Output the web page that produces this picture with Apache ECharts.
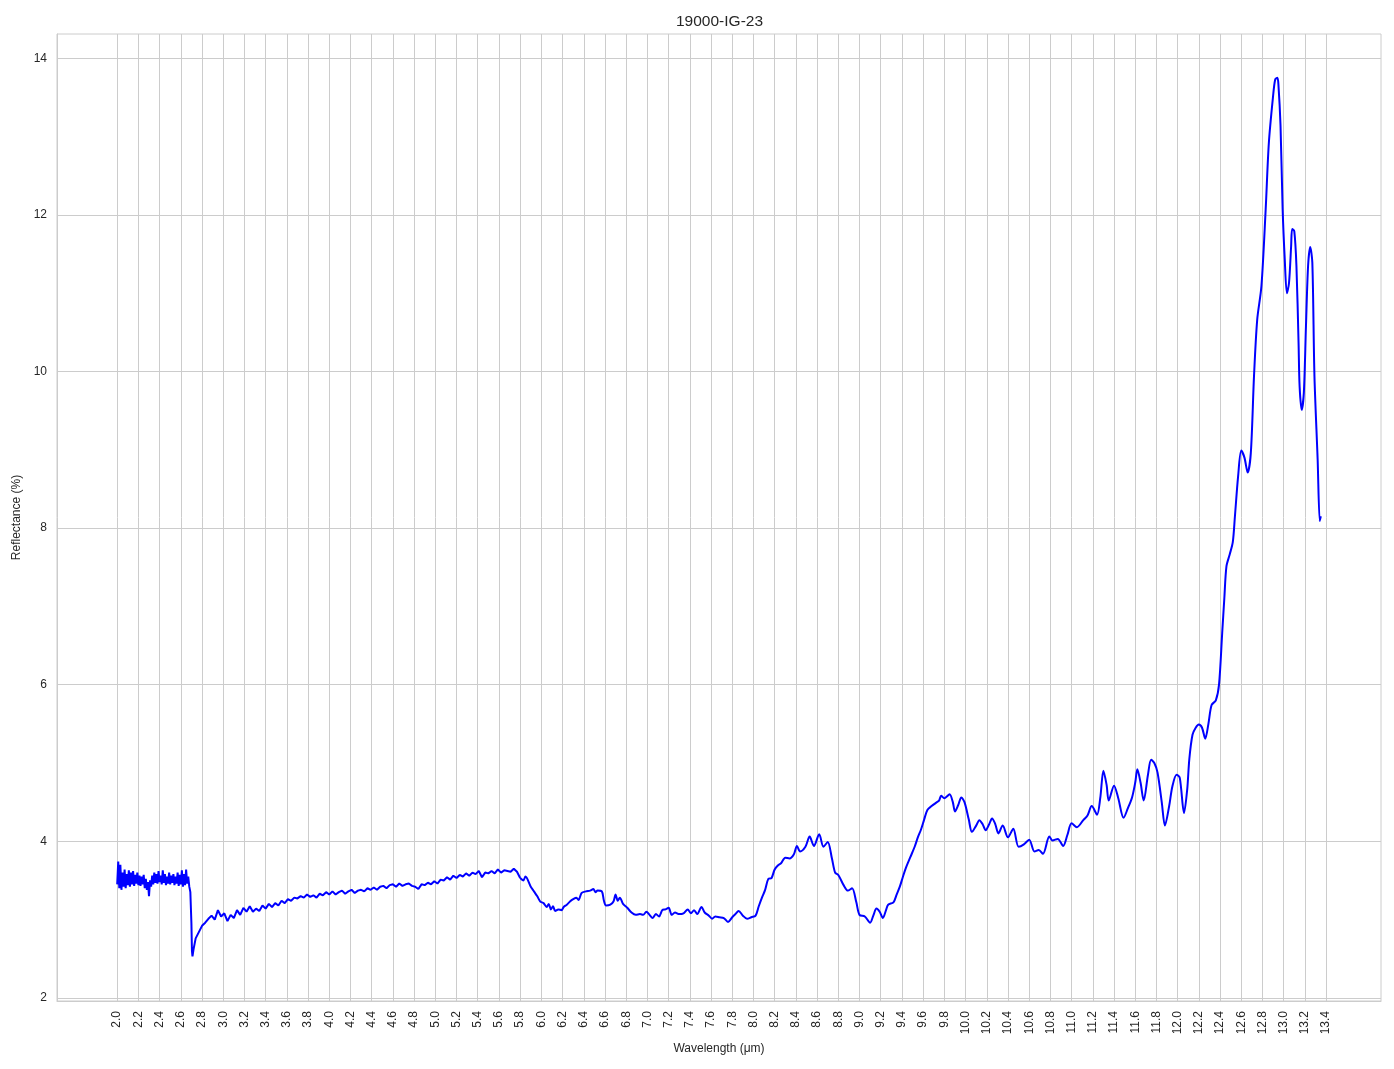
<!DOCTYPE html>
<html>
<head>
<meta charset="utf-8">
<script src="https://cdn.jsdelivr.net/npm/echarts@6/dist/echarts.min.js"></script>
<style>
html,body{margin:0;padding:0;background:#fff;}
#chart{width:1394px;height:1069px;}
</style>
</head>
<body>
<div id="chart"></div>
<script>
// Noisy part of the spectrum (wavelength in µm, reflectance in %)
const noisyWl = [
2.00,2.01,2.02,2.03,2.04,2.05,2.06,2.07,2.08,2.09,2.10,2.11,2.12,2.13,2.14,2.15,2.16,2.17,2.18,2.19,
2.20,2.21,2.22,2.23,2.24,2.25,2.26,2.27,2.28,2.29,2.30,2.31,2.32,2.33,2.34,2.35,2.36,2.37,2.38,2.39,
2.40,2.41,2.42,2.43,2.44,2.45,2.46,2.47,2.48,2.49,2.50,2.51,2.52,2.53,2.54,2.55,2.56,2.57,2.58,2.59,
2.60,2.61,2.62,2.63,2.64,2.65,2.66,2.67,2.68,2.69,2.70,2.705,2.71,2.72,
2.74,2.77,2.80,2.83,2.86,2.89,2.92,2.95,2.98,3.01,3.04,3.07,3.10,3.13,3.16,3.19,3.22,3.25,3.28,3.31,
3.34,3.37,3.40,3.43,3.46,3.49,3.52,3.55,3.58,3.61,3.64,3.67,3.70,3.73,3.76,3.79,3.82,3.85,3.88,3.91,
3.94,3.97,4.00,4.03,4.06,4.09,4.12,4.15,4.18,4.21,4.24,4.27,4.30,4.33,4.36,4.39,4.42,4.45,4.48,4.51,
4.54,4.57,4.60,4.63,4.66,4.69,4.72,4.75,4.78,4.81,4.84,4.87,4.90,4.93,4.96,4.99,5.02,5.05,5.08,5.11,
5.14,5.17,5.20,5.23,5.26,5.29,5.32,5.35,5.38,5.41,5.44,5.47,5.50,5.53,5.56,5.59,5.62,5.65,5.68,5.71,
5.74,5.77,5.80
];
const noisyRefl = [
3.45,3.74,3.40,3.70,3.38,3.60,3.42,3.64,3.40,3.58,3.44,3.63,3.42,3.60,3.45,3.62,3.43,3.57,3.46,3.60,
3.44,3.56,3.43,3.55,3.45,3.57,3.40,3.52,3.38,3.48,3.30,3.50,3.42,3.56,3.45,3.60,3.47,3.58,3.46,3.62,
3.48,3.56,3.45,3.63,3.47,3.58,3.44,3.55,3.46,3.60,3.45,3.56,3.47,3.58,3.44,3.55,3.46,3.60,3.43,3.57,
3.45,3.63,3.42,3.58,3.44,3.64,3.46,3.55,3.42,3.35,2.95,2.60,2.53,2.62,
2.76,2.84,2.92,2.96,3.01,3.05,3.00,3.12,3.04,3.08,2.98,3.06,3.02,3.12,3.06,3.15,3.10,3.17,3.10,3.14,
3.11,3.18,3.14,3.20,3.16,3.21,3.18,3.24,3.21,3.26,3.24,3.28,3.27,3.30,3.28,3.32,3.29,3.31,3.28,3.33,
3.31,3.35,3.32,3.36,3.32,3.35,3.37,3.33,3.36,3.38,3.34,3.37,3.38,3.36,3.40,3.38,3.41,3.38,3.42,3.43,
3.40,3.44,3.45,3.42,3.46,3.43,3.45,3.46,3.43,3.42,3.39,3.45,3.44,3.47,3.45,3.49,3.46,3.51,3.50,3.54,
3.51,3.56,3.53,3.57,3.55,3.59,3.56,3.60,3.58,3.62,3.54,3.60,3.59,3.62,3.59,3.64,3.60,3.63,3.62,3.61,
3.65,3.61,3.53
];
// Smoother part of the spectrum
const smoothWl = [
5.80,5.83,5.85,5.90,5.93,5.96,5.99,6.02,6.05,6.07,6.09,6.11,6.13,6.16,6.19,6.21,6.24,6.27,6.30,6.33,
6.35,6.38,6.42,6.46,6.49,6.51,6.53,6.57,6.59,6.61,6.65,6.68,6.70,6.72,6.74,6.77,6.81,6.85,6.89,6.93,
6.96,6.99,7.02,7.05,7.08,7.11,7.14,7.17,7.20,7.23,7.26,7.30,7.34,7.38,7.41,7.44,7.47,7.51,7.54,7.58,
7.61,7.64,7.68,7.72,7.76,7.80,7.83,7.86,7.90,7.94,7.98,8.02,8.05,8.08,8.11,8.14,8.17,8.20,8.23,8.26,
8.30,8.34,8.38,8.41,8.44,8.49,8.53,8.57,8.62,8.66,8.70,8.74,8.77,8.80,8.85,8.89,8.93,8.97,9.00,9.05,
9.10,9.13,9.16,9.19,9.22,9.25,9.27,9.32,9.35,9.38,9.41,9.44,9.48,9.52,9.55,9.58,9.61,9.64,9.68,9.72,
9.75,9.77,9.80,9.83,9.85,9.88,9.90,9.93,9.96,9.99,10.03,10.06,10.10,10.13,10.16,10.19,10.22,10.25,10.28,10.31,
10.35,10.40,10.45,10.50,10.55,10.60,10.65,10.69,10.73,10.79,10.82,10.87,10.92,10.96,11.00,11.05,11.11,11.15,11.19,11.24,
11.27,11.30,11.33,11.35,11.40,11.44,11.49,11.53,11.57,11.60,11.62,11.65,11.68,11.72,11.75,11.78,11.81,11.85,11.88,11.92,
11.95,11.99,12.02,12.06,12.09,12.11,12.14,12.17,12.20,12.23,12.26,12.29,12.32,12.36,12.39,12.42,12.44,12.46,12.49,12.52,
12.54,12.57,12.60,12.63,12.66,12.69,12.72,12.75,12.79,12.83,12.86,12.90,12.92,12.94,12.95,12.97,12.99,13.01,13.03,13.05,
13.07,13.08,13.10,13.12,13.14,13.15,13.17,13.19,13.21,13.23,13.25,13.27,13.29,13.32,13.34,13.35
];
const smoothRefl = [
3.53,3.50,3.55,3.42,3.36,3.30,3.23,3.21,3.16,3.20,3.13,3.17,3.11,3.13,3.12,3.16,3.19,3.23,3.26,3.28,
3.25,3.34,3.36,3.37,3.39,3.35,3.37,3.36,3.24,3.18,3.19,3.23,3.32,3.24,3.28,3.20,3.15,3.09,3.06,3.07,
3.06,3.10,3.06,3.02,3.07,3.04,3.12,3.13,3.15,3.06,3.09,3.07,3.08,3.13,3.08,3.12,3.07,3.16,3.09,3.05,
3.01,3.04,3.03,3.02,2.97,3.03,3.07,3.11,3.05,3.01,3.03,3.05,3.17,3.28,3.38,3.52,3.53,3.64,3.69,3.72,
3.79,3.78,3.83,3.94,3.87,3.93,4.06,3.94,4.09,3.93,3.99,3.78,3.60,3.57,3.44,3.37,3.40,3.22,3.06,3.04,
2.96,3.05,3.14,3.10,3.02,3.12,3.19,3.22,3.32,3.42,3.55,3.67,3.80,3.93,4.05,4.15,4.28,4.40,4.45,4.49,
4.52,4.58,4.55,4.58,4.60,4.50,4.38,4.46,4.56,4.50,4.28,4.12,4.20,4.27,4.22,4.14,4.21,4.29,4.22,4.10,
4.20,4.05,4.16,3.93,3.96,4.02,3.87,3.89,3.84,4.06,4.01,4.03,3.94,4.08,4.23,4.18,4.27,4.33,4.45,4.34,
4.55,4.90,4.72,4.52,4.71,4.55,4.30,4.42,4.56,4.75,4.92,4.75,4.52,4.85,5.04,5.00,4.88,4.50,4.20,4.45,
4.70,4.85,4.81,4.36,4.66,5.05,5.36,5.45,5.49,5.45,5.31,5.50,5.74,5.80,6.00,6.66,7.10,7.51,7.66,7.82,
8.15,8.66,8.99,8.90,8.71,8.96,9.94,10.66,11.09,12.07,12.92,13.52,13.73,13.75,13.67,13.14,12.07,11.43,11.00,11.13,
11.60,11.82,11.79,11.35,10.37,9.81,9.51,9.73,10.58,11.35,11.59,11.39,9.94,8.88,8.09,8.15
];
const xTicks = [2.0,2.2,2.4,2.6,2.8,3.0,3.2,3.4,3.6,3.8,4.0,4.2,4.4,4.6,4.8,5.0,5.2,5.4,5.6,5.8,6.0,6.2,6.4,6.6,6.8,7.0,7.2,7.4,7.6,7.8,8.0,8.2,8.4,8.6,8.8,9.0,9.2,9.4,9.6,9.8,10.0,10.2,10.4,10.6,10.8,11.0,11.2,11.4,11.6,11.8,12.0,12.2,12.4,12.6,12.8,13.0,13.2,13.4];
const yTicks = [2,4,6,8,10,12,14];
const titleText = '19000-IG-23';
const xName = 'Wavelength (μm)';
const yName = 'Reflectance (%)';

const noisyData = noisyWl.map((w, i) => [w, noisyRefl[i]]);
const smoothData = smoothWl.map((w, i) => [w, smoothRefl[i]]);

const font = '"Liberation Sans", Arial, sans-serif';
const chart = echarts.init(document.getElementById('chart'), null, {renderer: 'canvas'});
chart.setOption({
  animation: false,
  backgroundColor: '#ffffff',
  title: {
    text: titleText, left: 671, top: 9,
    textStyle: {fontFamily: font, fontSize: 15.5, fontWeight: 'normal', color: '#262626'}
  },
  grid: {left: 57, right: 13, top: 34, bottom: 68, show: true, borderColor: '#cccccc', borderWidth: 1},
  xAxis: {
    type: 'value', min: 1.4325, max: 13.9175,
    name: xName, nameLocation: 'middle', nameGap: 40,
    nameTextStyle: {fontFamily: font, fontSize: 12, color: '#262626'},
    axisLine: {show: true, lineStyle: {color: '#cccccc', width: 1}},
    axisTick: {show: false, customValues: xTicks},
    axisLabel: {customValues: xTicks, rotate: 90, margin: 10, fontFamily: font, fontSize: 12, color: '#262626',
      formatter: v => v.toFixed(1)},
    splitLine: {show: true, lineStyle: {color: '#cccccc', width: 1}}
  },
  yAxis: {
    type: 'value', min: 1.96, max: 14.31,
    name: yName, nameLocation: 'middle', nameGap: 27,
    nameTextStyle: {fontFamily: font, fontSize: 12, color: '#262626'},
    axisLine: {show: true, lineStyle: {color: '#cccccc', width: 1}},
    axisTick: {show: false, customValues: yTicks},
    axisLabel: {customValues: yTicks, margin: 10, fontFamily: font, fontSize: 12, color: '#262626',
      formatter: v => String(Math.round(v))},
    splitLine: {show: true, lineStyle: {color: '#cccccc', width: 1}}
  },
  series: [
    {type: 'line', data: noisyData, showSymbol: false, smooth: false,
     lineStyle: {color: '#0000ff', width: 2}, z: 3},
    {type: 'line', data: smoothData, showSymbol: false, smooth: 0.3,
     lineStyle: {color: '#0000ff', width: 2}, z: 3}
  ]
});
</script>
</body>
</html>
